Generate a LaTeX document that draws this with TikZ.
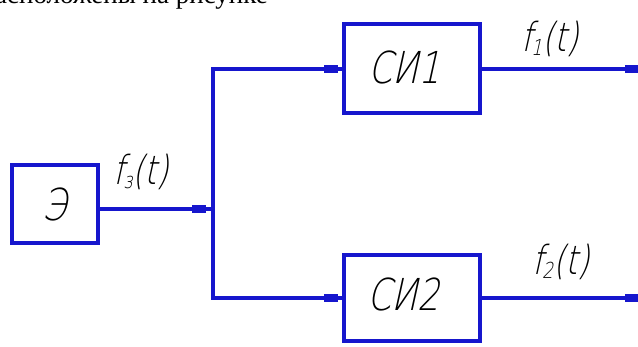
\documentclass[tikz,border=0pt]{standalone}
\usepackage{fontspec}
\setmainfont{Liberation Serif}
\newfontfamily\gost{DejaVu Sans ExtraLight}[FakeSlant=0.22,FakeStretch=0.78]
\definecolor{wirec}{RGB}{22,22,205}
\begin{document}
\begin{tikzpicture}[x=1pt,y=-1pt,
  wire/.style={draw=wirec, line width=4pt},
  blk/.style={draw=wirec, line width=4pt, inner sep=0pt},
  tickbox/.style={fill=wirec, minimum width=14pt, minimum height=8pt, inner sep=0pt},
  lbl/.style={font=\gost\fontsize{44}{48}\selectfont, text=black, inner sep=0pt},
  flbl/.style={font=\gost\fontsize{40}{44}\selectfont, text=black, inner sep=0pt}]
\useasboundingbox (0,0) rectangle (638,347);
\clip (0,0) rectangle (638,347);
% clipped caption line at the top
\node[anchor=base east, font=\fontsize{27}{30}\selectfont, inner sep=0pt] (cap) at (268,3.5) {расположены на рисунке};
% blocks
\node[blk, minimum width=86pt, minimum height=78pt] (E) at (55,204) {};
\node[blk, minimum width=136pt, minimum height=89pt] (S1) at (412,68.5) {};
\node[blk, minimum width=136pt, minimum height=86pt] (S2) at (412,298) {};
\node[lbl] (tE) at (54,204) {Э};
\node[lbl] (tS1) at (404,67) {СИ1};
\node[lbl] (tS2) at (403,294) {СИ2};
% junction coordinates
\coordinate (j) at (213,209);
\coordinate (t) at (213,69);
\coordinate (b) at (213,298);
\coordinate (o1) at (640,69);
\coordinate (o2) at (640,298);
% wires
\draw[wire] (E.east |- j) -- (j);
\draw[wire] (S1.west |- t) -- (t) -- (b) -- (S2.west |- b);
\draw[wire] (S1.east |- o1) -- (o1);
\draw[wire] (S2.east |- o2) -- (o2);
% markers
\node[tickbox] (m3) at (199,209) {};
\node[tickbox] (m1) at (331,69) {};
\node[tickbox] (m2) at (331,298) {};
\node[tickbox] (m4) at (632,69) {};
\node[tickbox] (m5) at (632,298) {};
% signal labels
\node[flbl] (f3) at (141,172) {f\kern-1pt\raisebox{-4pt}{\fontsize{22}{22}\selectfont з}(t)};
\node[flbl] (f1) at (550,39) {f\kern-1pt\raisebox{-4pt}{\fontsize{22}{22}\selectfont 1}(t)};
\node[flbl] (f2) at (561,262) {f\kern-1pt\raisebox{-4pt}{\fontsize{22}{22}\selectfont 2}(t)};
\end{tikzpicture}
\end{document}
